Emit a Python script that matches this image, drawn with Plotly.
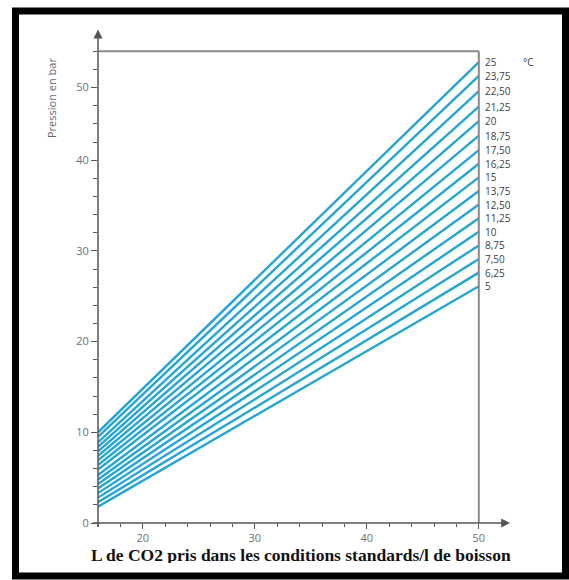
import plotly.graph_objects as go

# Data
temps = ["5", "6,25", "7,50", "8,75", "10", "11,25", "12,50", "13,75", "15",
         "16,25", "17,50", "18,75", "20", "21,25", "22,50", "23,75", "25"]
co2_range = [16, 50]
p_start = [1.8, 2.3, 2.8, 3.3, 3.8, 4.3, 4.8, 5.3, 5.9, 6.4, 6.9, 7.4, 7.9, 8.4, 8.9, 9.5, 10.0]
p_end = [26.1, 27.6, 29.1, 30.6, 32.1, 33.6, 35.1, 36.6, 38.1, 39.6, 41.1, 42.7, 44.3, 45.9, 47.6, 49.3, 50.8]
y_tickvals = [0, 10, 20, 30, 40, 48]
y_ticktext = ["0", "10", "20", "30", "40", "50"]
x_tickvals = [20, 30, 40, 50]
x_ticktext = ["20", "30", "40", "50"]

W, H = 569, 580
ML, MR, MT, MB = 98, 23, 15, 57
PW, PH = W - ML - MR, H - MT - MB

def px(xp):
    return (xp - ML) / PW

def py(yp):
    return (H - MB - yp) / PH

line_color = "#23a6d6"
axis_color = "#555555"
tick_font = dict(family="Open Sans, sans-serif", size=11, color="#707070")
label_font = dict(family="Open Sans, sans-serif", size=10, color="#404040")

fig = go.Figure()
for t, a, b in zip(temps, p_start, p_end):
    fig.add_trace(go.Scatter(x=co2_range, y=[a, b], mode="lines",
                             line=dict(color=line_color, width=2.4),
                             name=t + " °C", showlegend=False, hoverinfo="skip"))

annotations = []
for t, b in zip(temps, p_end):
    annotations.append(dict(x=co2_range[1], y=b, xref="x", yref="y", text=t,
                            showarrow=False, xanchor="left", yanchor="middle", xshift=4,
                            height=10, valign="middle", font=label_font))
annotations.append(dict(x=co2_range[1], y=p_end[-1], xref="x", yref="y", text="°C",
                        showarrow=False, xanchor="left", yanchor="middle", xshift=42,
                        height=10, font=label_font))
# axis arrows
annotations.append(dict(x=16, y=54.4, ax=16, ay=-0.6, xref="x", yref="y", axref="x", ayref="y",
                        text="", showarrow=True, arrowhead=2, arrowsize=1.2, arrowwidth=1.5,
                        arrowcolor=axis_color))
annotations.append(dict(x=52.8, y=0, ax=15.4, ay=0, xref="x", yref="y", axref="x", ayref="y",
                        text="", showarrow=True, arrowhead=2, arrowsize=1.2, arrowwidth=1.5,
                        arrowcolor=axis_color))
# titles
annotations.append(dict(x=px(301), y=py(555), xref="paper", yref="paper",
                        text="<b>L de CO2 pris dans les conditions standards/l de boisson</b>",
                        showarrow=False, xanchor="center", yanchor="middle", height=16,
                        font=dict(family="Liberation Serif, serif", size=17.5, color="#111111")))
annotations.append(dict(x=px(51), y=py(98), xref="paper", yref="paper",
                        text="Pression en bar", textangle=-90,
                        showarrow=False, xanchor="center", yanchor="middle",
                        font=dict(family="Open Sans, sans-serif", size=11, color="#666666")))

shapes = [
    # top line and right vertical line
    dict(type="line", x0=16, x1=50, y0=52, y1=52, xref="x", yref="y",
         line=dict(color="#8a8a8a", width=2)),
    dict(type="line", x0=50, x1=50, y0=0, y1=52, xref="x", yref="y",
         line=dict(color="#8a8a8a", width=2)),
    # black frame
    dict(type="rect", x0=px(15.5), x1=px(565.5), y0=py(576), y1=py(11),
         xref="paper", yref="paper", line=dict(color="black", width=7)),
]

fig.update_layout(
    width=W, height=H,
    margin=dict(l=ML, r=MR, t=MT, b=MB, pad=0),
    paper_bgcolor="white", plot_bgcolor="white",
    showlegend=False,
    annotations=annotations,
    shapes=shapes,
    xaxis=dict(range=[16, 56], showgrid=False, zeroline=False, showline=False,
               tickmode="array", tickvals=x_tickvals, ticktext=x_ticktext,
               ticks="outside", ticklen=5, tickwidth=1.2, tickcolor=axis_color,
               minor=dict(tickmode="array", tickvals=list(range(16, 52, 2)),
                          ticks="outside", ticklen=3, tickcolor=axis_color),
               tickfont=tick_font, fixedrange=True),
    yaxis=dict(range=[0, 56], showgrid=False, zeroline=False, showline=False,
               tickmode="array", tickvals=y_tickvals, ticktext=y_ticktext,
               ticks="outside", ticklen=6, tickwidth=1.2, tickcolor=axis_color,
               minor=dict(tickmode="array", tickvals=list(range(0, 54, 2)),
                          ticks="outside", ticklen=4, tickcolor=axis_color),
               tickfont=tick_font, fixedrange=True),
)

fig.write_html("out.html")
